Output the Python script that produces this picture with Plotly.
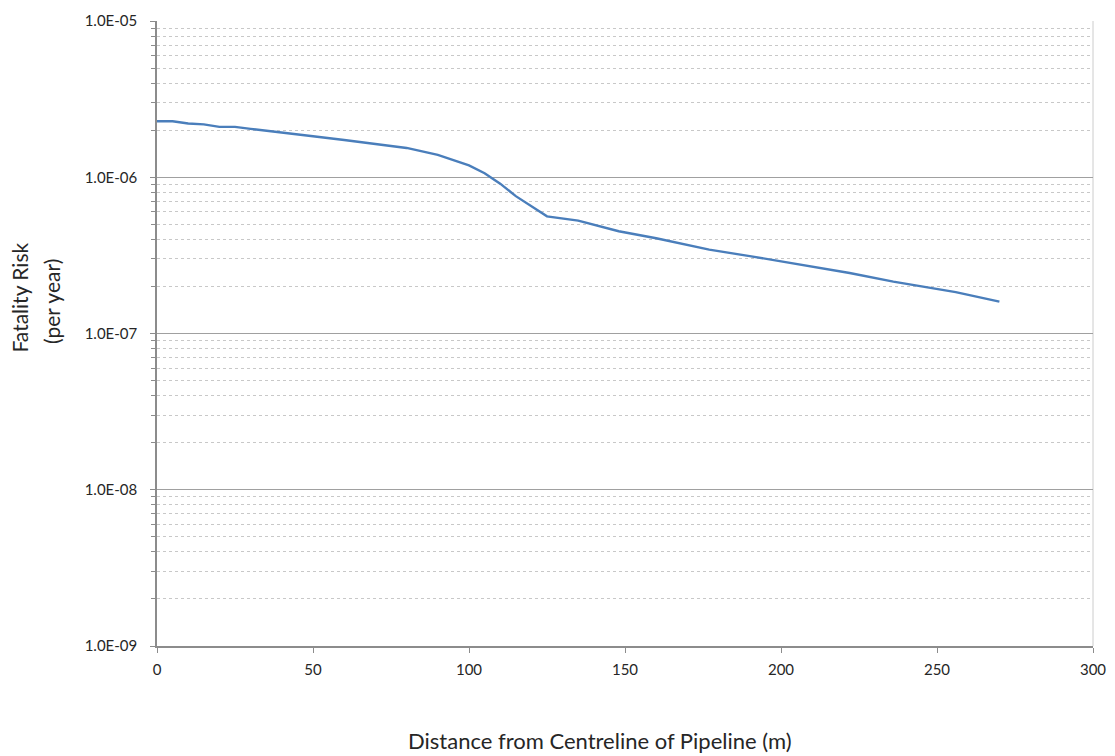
import plotly.graph_objects as go

distance_m = [0, 5, 10, 15, 20, 25, 30, 35, 40, 50, 60, 70, 80, 90, 100, 105, 110, 115, 120, 125,
              135, 140, 148, 160, 177, 190, 209, 222, 236, 250, 256, 270]
fatality_risk = [2.28e-6, 2.28e-6, 2.21e-6, 2.18e-6, 2.10e-6, 2.10e-6, 2.04e-6, 1.99e-6, 1.93e-6,
                 1.83e-6, 1.73e-6, 1.64e-6, 1.54e-6, 1.39e-6, 1.19e-6, 1.06e-6, 9.1e-7, 7.57e-7,
                 6.49e-7, 5.62e-7, 5.28e-7, 4.97e-7, 4.51e-7, 4.07e-7, 3.44e-7, 3.13e-7, 2.69e-7,
                 2.44e-7, 2.15e-7, 1.93e-7, 1.84e-7, 1.60e-7]

y_tick_vals = [1e-9, 1e-8, 1e-7, 1e-6, 1e-5]
y_tick_text = ["1.0E-09", "1.0E-08", "1.0E-07", "1.0E-06", "1.0E-05"]
x_tick_vals = [0, 50, 100, 150, 200, 250, 300]
minor_vals = [m * d for d in [1e-9, 1e-8, 1e-7, 1e-6] for m in range(2, 10)]

FONT = "Lato, Open Sans, sans-serif"
TXT = "#262626"

fig = go.Figure()
fig.add_trace(go.Scatter(
    x=distance_m, y=fatality_risk, mode="lines",
    line=dict(color="#4A7EBB", width=2.4), showlegend=False,
))

fig.update_layout(
    width=1107, height=748,
    margin=dict(l=149, r=22, t=13, b=110),
    paper_bgcolor="white", plot_bgcolor="white",
    font=dict(family=FONT, size=15, color=TXT),
    xaxis=dict(
        range=[0, 300], tickvals=x_tick_vals, showgrid=False, zeroline=False,
        showline=True, linecolor="#8c8c8c", linewidth=1.5, automargin=False,
        ticks="outside", ticklen=5, tickcolor="#8c8c8c", ticklabelstandoff=4,
        tickfont=dict(family=FONT, size=15, color=TXT),
    ),
    yaxis=dict(
        type="log", range=[-9, -5], tickvals=y_tick_vals, ticktext=y_tick_text,
        showgrid=True, gridcolor="#a0a0a0", gridwidth=1, zeroline=False,
        showline=True, linecolor="#8c8c8c", linewidth=1.5, automargin=False,
        ticks="outside", ticklen=5, tickcolor="#8c8c8c", ticklabelstandoff=10,
        tickfont=dict(family=FONT, size=15, color=TXT),
        minor=dict(tickvals=minor_vals, ticks="outside", ticklen=4, tickcolor="#8c8c8c",
                   showgrid=True, gridcolor="#c8c8c8", griddash="3px,3px", gridwidth=1),
    ),
    shapes=[dict(type="line", xref="paper", yref="paper", x0=1, x1=1, y0=0, y1=1,
                 line=dict(color="#cccccc", width=1), layer="below")],
    annotations=[
        dict(text="Fatality Risk", xref="paper", yref="paper",
             x=-0.1474, y=0.5576, xanchor="center", yanchor="middle", textangle=-90,
             showarrow=False, font=dict(family=FONT, size=21, color=TXT)),
        dict(text="(per year)", xref="paper", yref="paper",
             x=-0.1122, y=0.552, xanchor="center", yanchor="middle", textangle=-90,
             showarrow=False, font=dict(family=FONT, size=21, color=TXT)),
        dict(text="Distance from Centreline of Pipeline (m)", xref="paper", yref="paper",
             x=0.473, y=-0.151, xanchor="center", yanchor="middle",
             showarrow=False, font=dict(family=FONT, size=22, color=TXT)),
    ],
)

fig.write_html("out.html")
